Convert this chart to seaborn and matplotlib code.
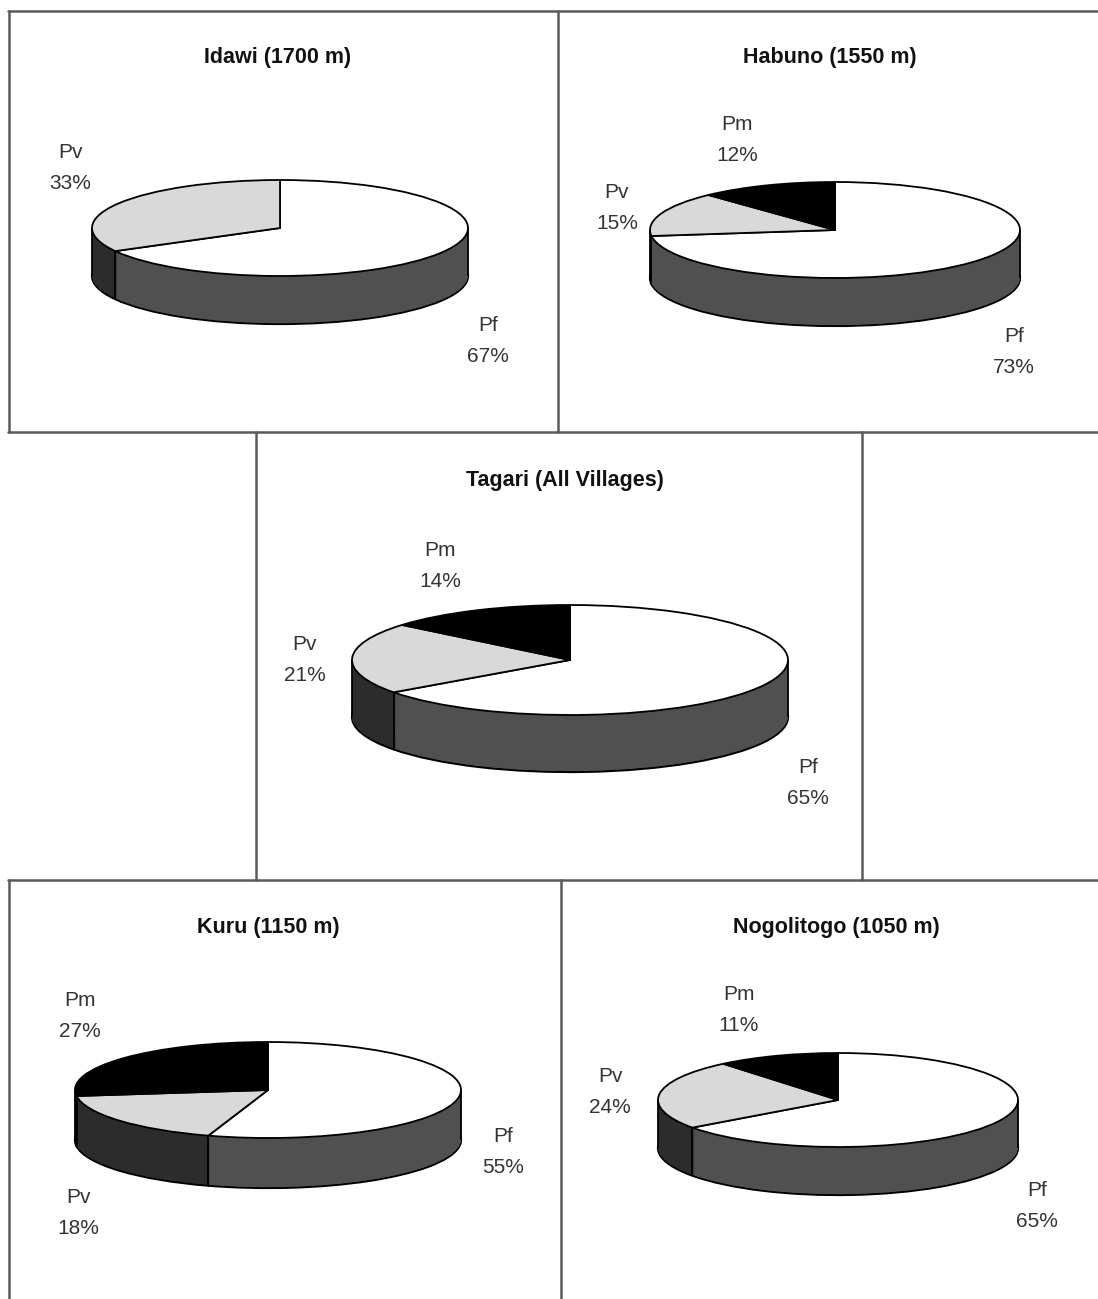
import numpy as np
import matplotlib
matplotlib.use("Agg")
import matplotlib.pyplot as plt
import seaborn as sns

# Data: malaria species share per village
titles = ["Idawi (1700 m)", "Habuno (1550 m)", "Tagari (All Villages)",
          "Kuru (1150 m)", "Nogolitogo (1050 m)"]
species = [["Pf", "Pv"], ["Pf", "Pv", "Pm"], ["Pf", "Pv", "Pm"],
           ["Pf", "Pv", "Pm"], ["Pf", "Pv", "Pm"]]
shares = [[67, 33], [73, 15, 12], [65, 21, 14], [55, 18, 27], [65, 24, 11]]

# colours (top face / side wall)
top_col = {"Pf": "white", "Pv": "#d9d9d9", "Pm": "black"}
side_col = {"Pf": "#505050", "Pv": "#2c2c2c", "Pm": "#080808"}

W, H = 1098, 1299

# layout in pixels: pie centre, semi-axes, wall height, title position, label positions
pies = [
    dict(c=(280, 228), a=188, b=48, h=48, t=(278, 57),
         lab={"Pv": (70, 168), "Pf": (488, 341)}),
    dict(c=(835, 230), a=185, b=48, h=48, t=(830, 57),
         lab={"Pm": (737, 140), "Pv": (617, 208), "Pf": (1014, 352)}),
    dict(c=(570, 660), a=218, b=55, h=57, t=(565, 480),
         lab={"Pm": (440, 566), "Pv": (305, 660), "Pf": (808, 783)}),
    dict(c=(268, 1090), a=193, b=48, h=50, t=(268, 927),
         lab={"Pm": (80, 1016), "Pv": (78, 1213), "Pf": (503, 1152)}),
    dict(c=(838, 1100), a=180, b=47, h=48, t=(836, 927),
         lab={"Pm": (739, 1010), "Pv": (610, 1092), "Pf": (1037, 1206)}),
]

sns.set_theme(style="white")
plt.rcParams["font.family"] = ["Liberation Sans", "DejaVu Sans"]

fig = plt.figure(figsize=(W / 100, H / 100), dpi=100)
bg = fig.add_axes([0, 0, 1, 1])
bg.set_xlim(0, W)
bg.set_ylim(H, 0)
bg.axis("off")

# panel frames
frame = "#5a5a5a"
lw = 1.8
bg.plot([8, W], [11, 11], color=frame, lw=lw)
bg.plot([8, W], [432, 432], color=frame, lw=lw)
bg.plot([8, W], [880, 880], color=frame, lw=lw)
bg.plot([9, 9], [11, 432], color=frame, lw=lw)
bg.plot([558, 558], [11, 432], color=frame, lw=lw)
bg.plot([256, 256], [432, 880], color=frame, lw=lw)
bg.plot([862, 862], [432, 880], color=frame, lw=lw)
bg.plot([9, 9], [880, H], color=frame, lw=lw)
bg.plot([561, 561], [880, H], color=frame, lw=lw)

pad = 4
for title, names, vals, lay in zip(titles, species, shares, pies):
    cx, cy = lay["c"]
    a, b, hp = lay["a"], lay["b"], lay["h"]
    x0, x1 = cx - a - pad, cx + a + pad
    y0, y1 = cy - b - pad, cy + b + hp + pad
    ax = fig.add_axes([x0 / W, 1 - y1 / H, (x1 - x0) / W, (y1 - y0) / H])
    h = hp / b

    tops = [top_col[n] for n in names]
    sides = [side_col[n] for n in names]

    # bottom outline
    ax.pie(vals, colors=sides, startangle=90, counterclock=False,
           center=(0, -h), radius=1,
           wedgeprops=dict(edgecolor="black", linewidth=1.6))
    # wall built from stacked layers
    n_layers = 60
    for k in range(1, n_layers):
        ax.pie(vals, colors=sides, startangle=90, counterclock=False,
               center=(0, -h + h * k / n_layers), radius=1,
               wedgeprops=dict(linewidth=0))
    # wall edges: outer sides and wedge boundaries at the front
    ax.vlines([-1, 1], -h, 0, color="black", lw=1.3, zorder=5)
    bounds = 90 - np.cumsum([0] + vals) / 100 * 360
    for ang in bounds:
        s = np.sin(np.deg2rad(ang))
        if s < 0:
            xx = np.cos(np.deg2rad(ang))
            ax.vlines(xx, s - h, s, color="black", lw=1.3, zorder=5)
    # top face
    wedges, _ = ax.pie(vals, colors=tops, startangle=90, counterclock=False,
                       center=(0, 0), radius=1,
                       wedgeprops=dict(edgecolor="black", linewidth=1.3))
    for w in wedges:
        w.set_zorder(6)

    ax.set_aspect("auto")
    ax.set_xlim(-1 - pad / a, 1 + pad / a)
    ax.set_ylim(-1 - h - pad / b, 1 + pad / b)
    ax.axis("off")

    bg.text(lay["t"][0], lay["t"][1], title, ha="center", va="center",
            fontsize=15.5, fontweight="bold", color="#111111")
    for n, v in zip(names, vals):
        lx, ly = lay["lab"][n]
        bg.text(lx, ly, f"{n}\n{v}%", ha="center", va="center",
                fontsize=15, color="#333333", linespacing=1.75)

fig.savefig("out.png", dpi=100, facecolor="white")
